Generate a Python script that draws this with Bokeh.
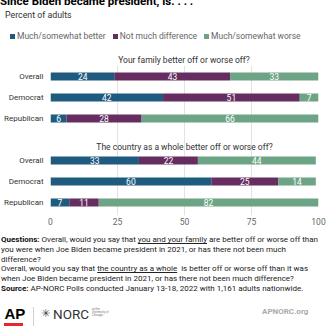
from bokeh.plotting import figure
from bokeh.models import Range1d, FixedTicker, Label, ColumnDataSource, Div
from bokeh.layouts import column
from bokeh.core.properties import value
from bokeh.embed import file_html
from bokeh.resources import INLINE

# ---- data ----
groups = ["Overall", "Democrat", "Republican"]
panels = ["Your family better off or worse off?",
          "The country as a whole better off or worse off?"]
family_better = [24, 42, 6]
family_same = [43, 51, 28]
family_worse = [33, 7, 66]
country_better = [33, 60, 7]
country_same = [22, 25, 11]
country_worse = [44, 14, 82]
series_names = ["Much/somewhat better", "Not much difference", "Much/somewhat worse"]
x_ticks = [0, 25, 50, 75, 100]

colors = ["#1f5b7e", "#662d60", "#6ea486"]
FONT = "Roboto"

# row positions: panel p, row i -> 4p + i
ys = [4 * p + i for p in range(2) for i in range(3)]
better = family_better + country_better
same = family_same + country_same
worse = family_worse + country_worse
labels = groups + groups

# ---------------- header ----------------
legend_items = ""
for k, (name, c) in enumerate(zip(series_names, colors)):
    ml = "7px" if k > 0 else "0"
    legend_items += (f'<span style="display:inline-block;width:5px;height:5px;'
                     f'background:{c};margin-left:{ml};margin-right:2px"></span>'
                     f'<span>{name}</span>')

header_html = f'''
<div style="position:relative;width:328px;height:65px;overflow:hidden;font-family:Roboto;">
  <div style="position:absolute;left:0px;top:-4.5px;font-size:11.5px;line-height:11.5px;font-weight:bold;color:#000;white-space:nowrap">Since Biden became president, is. . . .</div>
  <div style="position:absolute;left:5px;top:10.5px;font-size:8.8px;line-height:8.8px;color:#333;white-space:nowrap">Percent of adults</div>
  <div style="position:absolute;left:10px;top:31px;height:10px;display:flex;align-items:center;font-size:8.5px;line-height:10px;color:#666;white-space:nowrap">{legend_items}</div>
  <div style="position:absolute;left:50px;width:268px;top:55.5px;text-align:center;font-size:8.5px;line-height:8.5px;color:#333;white-space:nowrap">{panels[0]}</div>
</div>
'''
header = Div(text=header_html, width=328, height=65, margin=0)

# ---------------- chart ----------------
p = figure(width=328, height=163, x_range=Range1d(0, 100),
           y_range=Range1d(6.619, -0.5238), output_backend="svg",
           toolbar_location=None, min_border_left=50, min_border_right=10,
           min_border_top=0, min_border_bottom=13)
p.outline_line_color = None
p.background_fill_color = "white"
p.border_fill_color = "white"

series = [better, same, worse]
left = [0] * len(ys)
for k, vals in enumerate(series):
    right = [l + v for l, v in zip(left, vals)]
    src = ColumnDataSource(dict(y=ys, left=left, right=right,
                                mid=[(l + r) / 2 for l, r in zip(left, right)],
                                txt=[str(v) for v in vals]))
    p.hbar(y="y", left="left", right="right", height=0.37, source=src,
           fill_color=colors[k], line_color=None, legend_label=series_names[k])
    p.text(x="mid", y="y", text="txt", source=src, text_color="white",
           text_font=value(FONT), text_font_size="8.5px",
           text_align="center", text_baseline="middle")
    left = right
p.legend.visible = False

for ax in (p.xaxis, p.yaxis):
    ax.axis_line_color = None
    ax.major_tick_line_color = None
    ax.minor_tick_line_color = None
    ax.major_tick_out = 0
    ax.major_tick_in = 0
    ax.minor_tick_out = 0
    ax.major_label_text_font = FONT

p.xaxis.ticker = FixedTicker(ticks=x_ticks)
p.xaxis.major_label_text_font_size = "8.5px"
p.xaxis.major_label_text_color = "#666666"
p.xaxis.major_label_standoff = 2

p.yaxis.ticker = FixedTicker(ticks=ys)
p.yaxis.major_label_overrides = {y: l for y, l in zip(ys, labels)}
p.yaxis.major_label_text_font_size = "8px"
p.yaxis.major_label_text_color = "#333333"
p.yaxis.major_label_standoff = 7

p.xgrid.ticker = FixedTicker(ticks=x_ticks)
p.xgrid.grid_line_color = "#e2e2e2"
p.ygrid.visible = False

# second panel title (inside the plot frame)
p.add_layout(Label(x=50, y=(146 - 76) / 21.0, text=panels[1], text_font=FONT,
                   text_font_size="8.5px", text_color="#333333",
                   text_align="center", text_baseline="middle"))

# ---------------- footer ----------------
footer_html = '''
<div style="position:relative;width:328px;height:100px;overflow:hidden;font-family:Roboto;color:#222;">
  <div style="position:absolute;left:1px;top:7.3px;font-size:8px;line-height:9.65px;white-space:nowrap">
    <b style="color:#111">Questions:</b> Overall, would you say that <u>you and your family</u> are better off or worse off than<br>
    you were when Joe Biden became president in 2021, or has there not been much<br>
    difference?<br>
    Overall, would you say that <u>the country as a whole</u>&nbsp; is better off or worse off than it was<br>
    when Joe Biden became president in 2021, or has there not been much difference?<br>
    <b style="color:#111">Source:</b> AP-NORC Polls conducted January 13-18, 2022 with 1,161 adults nationwide.
  </div>
  <div style="position:absolute;left:4.5px;top:78px;font-family:'Liberation Sans';font-size:15px;line-height:15px;font-weight:bold;color:#000">AP</div>
  <div style="position:absolute;left:4px;top:95px;width:19px;height:3px;background:#e8262b"></div>
  <div style="position:absolute;left:33px;top:79px;width:1px;height:19px;background:#d0d0d0"></div>
  <div style="position:absolute;left:41px;top:80px;font-family:'DejaVu Sans';font-size:11px;line-height:11px;color:#444">&#x2733;</div>
  <div style="position:absolute;left:53px;top:79.5px;font-size:13.5px;line-height:13.5px;color:#333">NORC</div>
  <div style="position:absolute;left:92px;top:80px;font-size:3px;line-height:3px;color:#777;white-space:nowrap">at the<br>University of<br>Chicago</div>
  <div style="position:absolute;left:262px;top:79.5px;font-size:8px;line-height:8px;font-weight:bold;color:#aaa">APNORC.org</div>
</div>
'''
footer = Div(text=footer_html, width=328, height=100, margin=0)

layout = column(header, p, footer, spacing=0, margin=0)
open("out.html", "w").write(file_html(layout, INLINE))
